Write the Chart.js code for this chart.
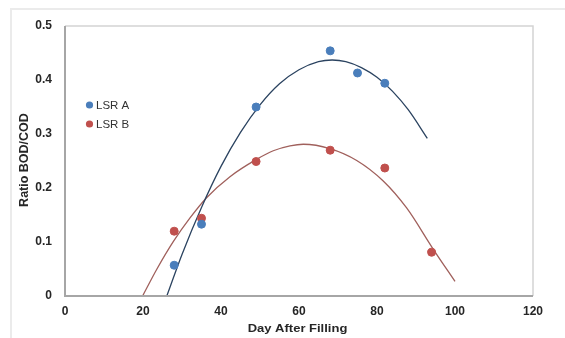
<!DOCTYPE html>
<html>
<head>
<meta charset="utf-8">
<script src="https://cdn.jsdelivr.net/npm/chart.js@4/dist/chart.umd.min.js"></script>
<style>
html,body{margin:0;padding:0;background:#fff;}
#wrap{position:relative;width:565px;height:338px;overflow:hidden;}
#frame{position:absolute;left:10px;top:8px;width:600px;height:400px;border-top:2px solid #ebebeb;border-left:2px solid #ebebeb;}
canvas{position:absolute;left:0;top:0;}
</style>
</head>
<body>
<div id="wrap">
<div id="frame"></div>
<canvas id="c" width="565" height="338"></canvas>
</div>
<script>
// Measured points
const daysA = [28, 35, 49, 68, 75, 82];
const ratioA = [0.057, 0.133, 0.35, 0.454, 0.413, 0.394];
const daysB = [28, 35, 49, 68, 82, 94];
const ratioB = [0.12, 0.144, 0.249, 0.27, 0.237, 0.081];
// Trend lines
const trendAx = [26.1, 30, 35, 40, 45, 50, 55, 60, 65, 68.5, 72, 76, 80, 84, 88, 92.9];
const trendAy = [0, 0.077, 0.164, 0.240, 0.303, 0.354, 0.393, 0.419, 0.434, 0.437, 0.434, 0.423, 0.405, 0.379, 0.345, 0.292];
const trendBx = [19.9, 23.5, 27.8, 32.1, 36.3, 42.3, 49.1, 53.4, 57.7, 61.1, 67.9, 74.8, 81.6, 87.6, 94.4, 100];
const trendBy = [0, 0.049, 0.101, 0.145, 0.182, 0.221, 0.253, 0.269, 0.278, 0.281, 0.273, 0.251, 0.213, 0.163, 0.087, 0.027];
const xTicks = [0, 20, 40, 60, 80, 100, 120];
const yTicks = [0, 0.1, 0.2, 0.3, 0.4, 0.5];
const seriesNames = ['LSR A', 'LSR B'];
const xTitle = 'Day After Filling';
const yTitle = 'Ratio BOD/COD';

const blue = '#4a7ebb', red = '#c0504d';
const pts = (xs, ys) => xs.map((x, i) => ({x: x, y: ys[i]}));
const FAM = '"Liberation Sans", Arial, sans-serif';

const frameBorder = {
  id: 'frameBorder',
  afterDraw(chart) {
    const {ctx, chartArea: a} = chart;
    ctx.save();
    ctx.lineWidth = 1.5;
    ctx.strokeStyle = '#d4d4d4';
    ctx.beginPath();
    ctx.moveTo(a.left, a.top); ctx.lineTo(a.right, a.top); ctx.lineTo(a.right, a.bottom);
    ctx.stroke();
    ctx.lineWidth = 2;
    ctx.strokeStyle = '#a6a6a6';
    ctx.beginPath();
    ctx.moveTo(a.left, a.top); ctx.lineTo(a.left, a.bottom); ctx.lineTo(a.right, a.bottom);
    ctx.stroke();
    // legend
    ctx.font = '11.5px ' + FAM;
    ctx.textBaseline = 'middle';
    ctx.textAlign = 'left';
    const items = [[seriesNames[0], blue, 105], [seriesNames[1], red, 124]];
    items.forEach(([t, c, y]) => {
      ctx.fillStyle = c;
      ctx.beginPath(); ctx.arc(89.5, y, 3.6, 0, Math.PI * 2); ctx.fill();
      ctx.fillStyle = '#333';
      ctx.fillText(t, 96, y + 0.5);
    });
    // axis titles
    ctx.fillStyle = '#262626';
    ctx.textAlign = 'center';
    ctx.save();
    ctx.translate(297.5, 329.5);
    ctx.scale(1, 0.8);
    ctx.font = 'bold 13px ' + FAM;
    ctx.fillText(xTitle, 0, 0);
    ctx.restore();
    ctx.save();
    ctx.translate(24.5, 160);
    ctx.rotate(-Math.PI / 2);
    ctx.font = 'bold 12.5px ' + FAM;
    ctx.fillText(yTitle, 0, 0);
    ctx.restore();
    ctx.restore();
  }
};

new Chart(document.getElementById('c'), {
  type: 'scatter',
  data: {
    datasets: [
      {label: seriesNames[0] + ' trend', data: pts(trendAx, trendAy), showLine: true, borderColor: '#2b4360', borderWidth: 1.3, pointRadius: 0, tension: 0.4, cubicInterpolationMode: 'monotone', order: 2},
      {label: seriesNames[1] + ' trend', data: pts(trendBx, trendBy), showLine: true, borderColor: '#a0605c', borderWidth: 1.3, pointRadius: 0, tension: 0.4, cubicInterpolationMode: 'monotone', order: 2},
      {label: seriesNames[0], data: pts(daysA, ratioA), backgroundColor: blue, borderColor: blue, pointRadius: 4, order: 1},
      {label: seriesNames[1], data: pts(daysB, ratioB), backgroundColor: red, borderColor: red, pointRadius: 4, order: 1}
    ]
  },
  options: {
    responsive: false,
    animation: false,
    layout: {padding: {left: 0, top: 26, right: 32, bottom: 0}},
    plugins: {legend: {display: false}, tooltip: {enabled: false}},
    scales: {
      x: {
        type: 'linear', min: 0, max: 120,
        afterBuildTicks: s => { s.ticks = xTicks.map(v => ({value: v})); },
        afterFit: s => { s.height = 42; },
        grid: {display: false, drawTicks: false},
        border: {display: false},
        ticks: {padding: 8, color: '#262626', font: {family: FAM, size: 12, weight: 'bold'}, maxRotation: 0}
      },
      y: {
        type: 'linear', min: 0, max: 0.5,
        afterBuildTicks: s => { s.ticks = yTicks.map(v => ({value: v})); },
        afterFit: s => { s.width = 65; },
        grid: {display: false, drawTicks: false},
        border: {display: false},
        ticks: {padding: 13, color: '#262626', font: {family: FAM, size: 12, weight: 'bold'}, callback: v => String(Math.round(v * 10) / 10)}
      }
    }
  },
  plugins: [frameBorder]
});
</script>
</body>
</html>
